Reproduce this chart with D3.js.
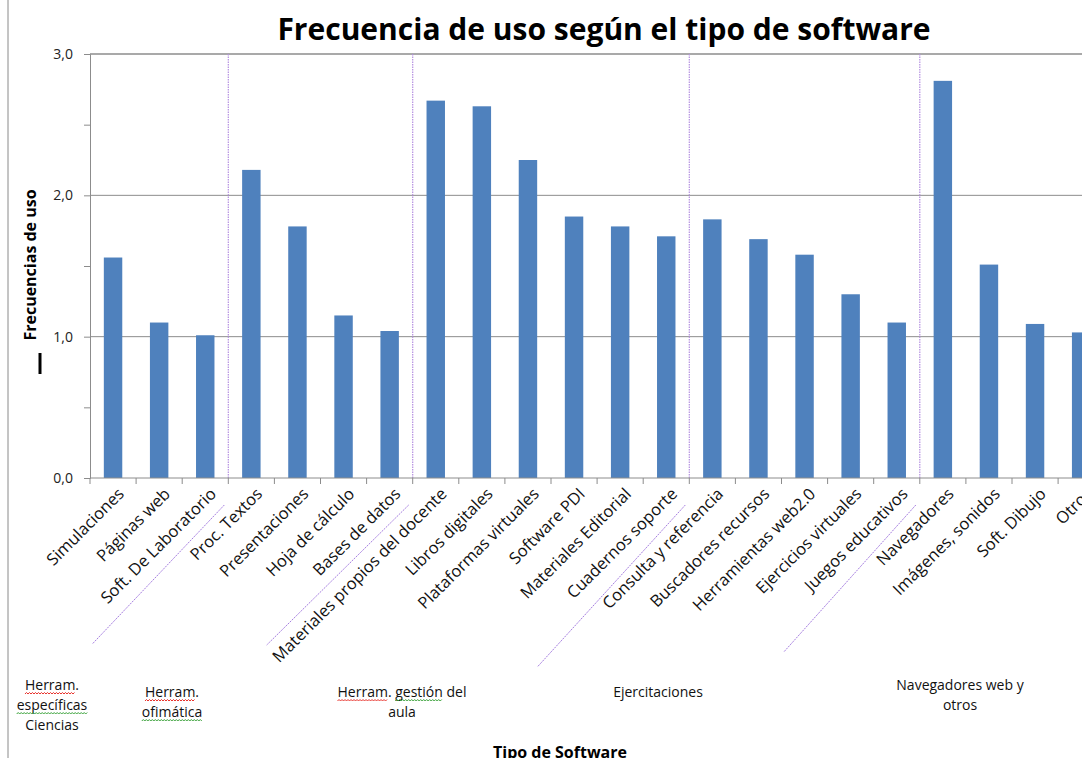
<!DOCTYPE html>
<html>
<head>
<meta charset="utf-8">
<script src="https://cdn.jsdelivr.net/npm/d3@7"></script>
<style>
  body { margin: 0; background: #fff; }
  svg { display: block; }
</style>
</head>
<body>
<div id="chart"></div>
<script>
// chart data
var categories = ["Simulaciones", "Páginas web", "Soft. De Laboratorio", "Proc. Textos", "Presentaciones",
  "Hoja de cálculo", "Bases de datos", "Materiales propios del docente", "Libros digitales",
  "Plataformas virtuales", "Software PDI", "Materiales Editorial", "Cuadernos soporte",
  "Consulta y referencia", "Buscadores recursos", "Herramientas web2.0", "Ejercicios virtuales",
  "Juegos educativos", "Navegadores", "Imágenes, sonidos", "Soft. Dibujo", "Otros"];
var values = [1.56, 1.10, 1.01, 2.18, 1.78, 1.15, 1.04, 2.67, 2.63, 2.25, 1.85, 1.78, 1.71,
  1.83, 1.69, 1.58, 1.30, 1.10, 2.81, 1.51, 1.09, 1.03];
var yTicks = [0, 1, 2, 3];
var yTickLabels = ["0,0", "1,0", "2,0", "3,0"];
// separators fall before these category indices
var groupBreaks = [3, 7, 13, 18];
var groupNames = [["Herram.", "específicas", "Ciencias"], ["Herram.", "ofimática"],
  ["Herram. gestión del", "aula"], ["Ejercitaciones"], ["Navegadores web y", "otros"]];
// words flagged by the spell checker in the original
var spellMarks = { "Herram": "#e8302a", "específicas": "#3aa23a", "ofimática": "#3aa23a", "gestión": "#3aa23a" };

var W = 1082, H = 758;
var plotLeft = 90, plotTop = 54, plotBottom = 478, step = 46.1;
var font = "'Open Sans', 'Noto Sans', sans-serif";

var svg = d3.select("#chart").append("svg").attr("width", W).attr("height", H)
  .style("font-family", font);

// outer frame line on the left
svg.append("line").attr("x1", 8).attr("x2", 8).attr("y1", 0).attr("y2", H)
  .attr("stroke", "#8a8a8a").attr("stroke-width", 1);

var x = d3.scaleBand().domain(categories)
  .range([plotLeft, plotLeft + categories.length * step])
  .paddingInner(0.6).paddingOuter(0.3);
var y = d3.scaleLinear().domain([0, 3]).range([plotBottom, plotTop]);

// grid lines
svg.append("g").selectAll("line").data(yTicks.filter(function (d) { return d > 0; })).join("line")
  .attr("x1", plotLeft).attr("x2", W)
  .attr("y1", function (d) { return y(d); }).attr("y2", function (d) { return y(d); })
  .attr("stroke", "#8c8c8c").attr("stroke-width", function (d) { return d === 3 ? 1.5 : 1; });

// bars
svg.append("g").selectAll("rect").data(values).join("rect")
  .attr("x", function (d, i) { return x(categories[i]); })
  .attr("width", x.bandwidth())
  .attr("y", function (d) { return y(d); })
  .attr("height", function (d) { return y(0) - y(d); })
  .attr("fill", "#4f81bd");

// group separators (dotted purple)
svg.append("g").selectAll("line").data(groupBreaks).join("line")
  .attr("x1", function (d) { return plotLeft + d * step; })
  .attr("x2", function (d) { return plotLeft + d * step; })
  .attr("y1", plotTop).attr("y2", plotBottom)
  .attr("stroke", "#b48ee0").attr("stroke-width", 1.2).attr("stroke-dasharray", "1.5,1");

// diagonal separators under the labels
var diagLen = [[132, 139], [142, 140], [148, 162], [132, 147]];
svg.append("g").selectAll("line").data(groupBreaks).join("line")
  .attr("x1", function (d) { return plotLeft + d * step - 4; })
  .attr("y1", plotBottom + 27)
  .attr("x2", function (d, i) { return plotLeft + d * step - 4 - diagLen[i][0]; })
  .attr("y2", function (d, i) { return plotBottom + 27 + diagLen[i][1]; })
  .attr("stroke", "#a57de0").attr("stroke-width", 1).attr("stroke-dasharray", "2,1");

// y axis
var yAxis = d3.axisLeft(y).tickValues(d3.range(0, 3.01, 0.5)).tickSize(6).tickFormat("");
var gy = svg.append("g").attr("transform", "translate(" + plotLeft + ",0)").call(yAxis);
gy.select(".domain").attr("stroke", "#8c8c8c");
gy.selectAll(".tick line").attr("stroke", "#8c8c8c");

svg.append("g").selectAll("text").data(yTicks).join("text")
  .attr("x", plotLeft - 17).attr("y", function (d) { return y(d) + 5; })
  .attr("text-anchor", "end").attr("font-size", 14).attr("fill", "#222")
  .text(function (d, i) { return yTickLabels[i]; });

// x axis
svg.append("line").attr("x1", plotLeft).attr("x2", W).attr("y1", plotBottom).attr("y2", plotBottom)
  .attr("stroke", "#8c8c8c");
svg.append("g").selectAll("line").data(d3.range(categories.length + 1)).join("line")
  .attr("x1", function (d) { return plotLeft + d * step; })
  .attr("x2", function (d) { return plotLeft + d * step; })
  .attr("y1", plotBottom).attr("y2", plotBottom + 6)
  .attr("stroke", "#8c8c8c");

svg.append("g").selectAll("text").data(categories).join("text")
  .attr("transform", function (d) {
    return "translate(" + (x(d) + x.bandwidth() / 2 + 12) + "," + (plotBottom + 17) + ") rotate(-45)";
  })
  .attr("text-anchor", "end").attr("font-size", 16.5).attr("fill", "#111")
  .text(function (d) { return d; });

// title
svg.append("text").attr("x", 604).attr("y", 40).attr("text-anchor", "middle")
  .attr("font-size", 30).attr("font-weight", "bold").attr("fill", "#000")
  .text("Frecuencia de uso según el tipo de software");

// y title
svg.append("text").attr("transform", "translate(36,265) rotate(-90)")
  .attr("text-anchor", "middle").attr("font-size", 16).attr("font-weight", "bold")
  .text("Frecuencias de uso");
svg.append("line").attr("x1", 40).attr("x2", 40).attr("y1", 353).attr("y2", 374)
  .attr("stroke", "#000").attr("stroke-width", 3);

// group labels, with the wavy spell-check underlines
function wavy(x0, x1, yy) {
  var p = d3.path();
  p.moveTo(x0, yy);
  var up = true;
  for (var xx = x0 + 1.5; xx <= x1; xx += 1.5) {
    p.lineTo(xx, up ? yy - 1.5 : yy);
    up = !up;
  }
  return p.toString();
}

var groupLabelX = [52, 172, 402, 658, 960];
var groupLabelY = [690, 697, 697, 697, 690];
groupNames.forEach(function (lines, i) {
  var t = svg.append("text").attr("text-anchor", "middle").attr("font-size", 14).attr("fill", "#111");
  lines.forEach(function (ln, j) {
    var ly = groupLabelY[i] + j * 20;
    var ts = t.append("tspan").attr("x", groupLabelX[i]).attr("y", ly).text(ln);
    var node = ts.node();
    var full = node.getComputedTextLength();
    var start = groupLabelX[i] - full / 2;
    Object.keys(spellMarks).forEach(function (w) {
      var k = ln.indexOf(w);
      if (k < 0) return;
      var a = k > 0 ? node.getSubStringLength(0, k) : 0;
      var b = node.getSubStringLength(k, w.length);
      svg.append("path").attr("d", wavy(start + a, start + a + b, ly + 4))
        .attr("fill", "none").attr("stroke", spellMarks[w]).attr("stroke-width", 1);
    });
  });
});

// x title
svg.append("text").attr("x", 560).attr("y", 758).attr("text-anchor", "middle")
  .attr("font-size", 16).attr("font-weight", "bold").text("Tipo de Software");
</script>
</body>
</html>
